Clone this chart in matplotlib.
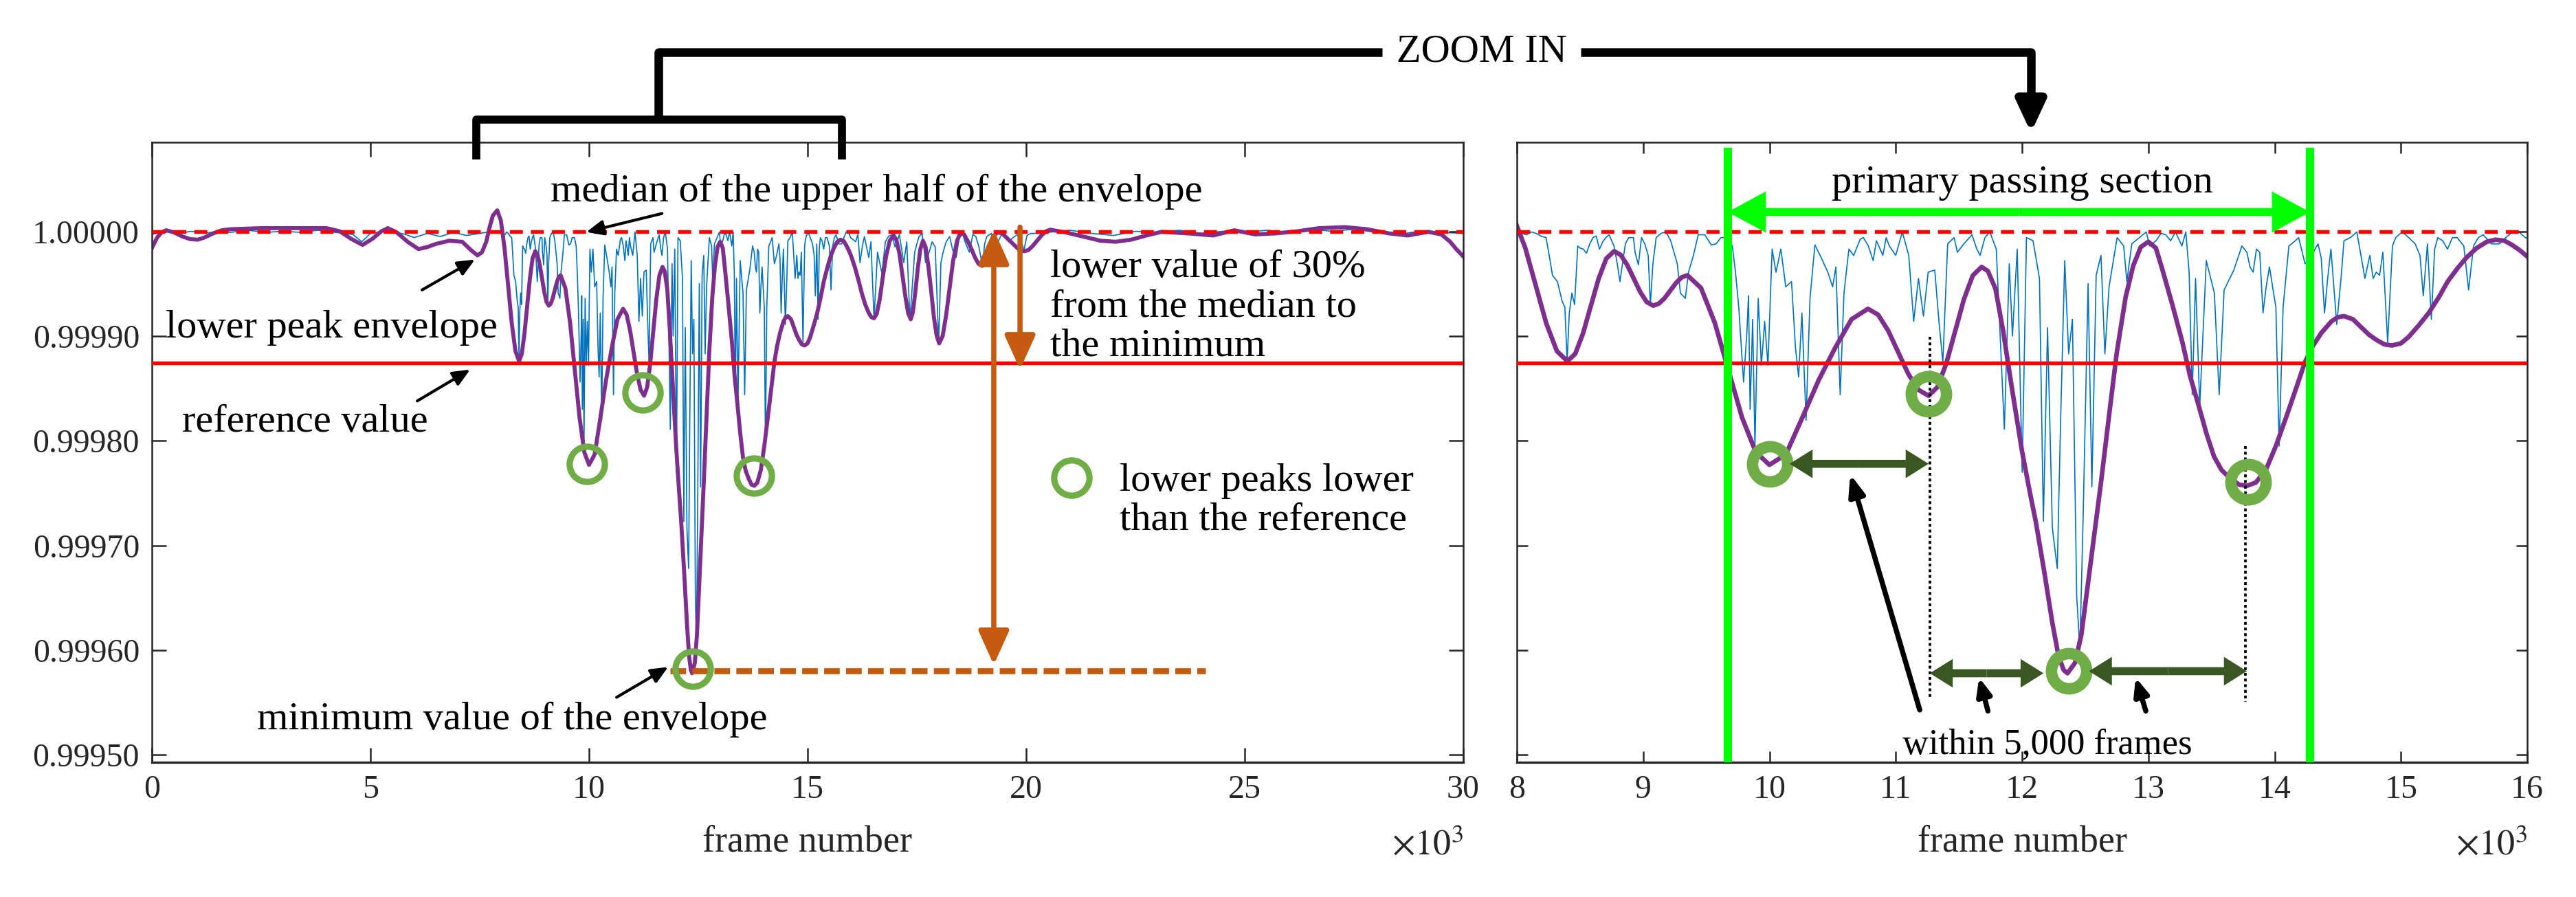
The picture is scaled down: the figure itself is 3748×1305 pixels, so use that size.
import numpy as np
import matplotlib
matplotlib.use("Agg")
import matplotlib.pyplot as plt
from matplotlib.lines import Line2D

plt.rcParams['font.family'] = ['Liberation Serif', 'DejaVu Serif']
plt.rcParams['mathtext.fontset'] = 'stix'

# frame numbers in thousands (axis shows x10^3)
# depths are in units of 1e-5 below 1.0 (value = 1 - depth * 1e-5)
signal_k = [0.0, 0.3, 0.6, 0.9, 1.2, 1.5, 1.8, 2.2, 2.6, 3.0, 3.4, 3.8, 4.2, 4.6, 4.8, 5.0, 5.4, 5.8, 6.0,
            6.3, 6.6, 6.9, 7.2, 7.5, 7.8,
            8.000, 8.077, 8.154, 8.231, 8.282, 8.321, 8.359, 8.380, 8.398, 8.415, 8.436, 8.457, 8.482,
            8.526, 8.551, 8.603, 8.654, 8.705, 8.769, 8.816, 8.859, 8.923, 8.962, 9.013, 9.057, 9.103,
            9.180, 9.244, 9.295, 9.334, 9.359, 9.436, 9.539, 9.616, 9.706, 9.757, 9.795, 9.821, 9.847,
            9.867, 9.885, 9.911, 9.936, 9.962, 9.988, 10.021, 10.052, 10.090, 10.129, 10.175, 10.206,
            10.231, 10.257, 10.290, 10.321, 10.360, 10.411, 10.462, 10.500, 10.526, 10.560, 10.590,
            10.629, 10.719, 10.783, 10.847, 10.898, 10.949, 11.052, 11.103, 11.142, 11.180, 11.219,
            11.257, 11.309, 11.342, 11.373, 11.411, 11.488, 11.539, 11.604, 11.668, 11.745, 11.796,
            11.860, 11.899, 11.962, 12.001,
            12.035, 12.087, 12.138, 12.169, 12.202, 12.240, 12.279, 12.305, 12.338, 12.369, 12.399,
            12.433, 12.458, 12.484, 12.523, 12.553, 12.587, 12.625, 12.656, 12.689, 12.753, 12.805,
            12.830, 12.869, 12.984, 13.061, 13.138, 13.215, 13.266, 13.297, 13.323, 13.348, 13.374,
            13.407, 13.459, 13.523, 13.561, 13.600, 13.677, 13.741, 13.805, 13.856, 13.908, 13.959,
            14.010, 14.036, 14.067, 14.113, 14.190, 14.241, 14.344, 14.395, 14.446, 14.492, 14.528,
            14.600, 14.651, 14.715, 14.754, 14.805, 14.857, 14.895, 14.933, 15.010, 15.113, 15.177,
            15.210, 15.241, 15.292, 15.369, 15.446, 15.536, 15.575, 15.652, 15.780, 15.883, 15.985,
            16.1, 16.2, 16.3, 16.4, 16.52, 16.6, 16.7, 16.85, 17.0, 17.1, 17.2, 17.34, 17.45, 17.55,
            17.7, 17.85, 18.0, 18.1, 18.25, 18.4, 18.55, 18.7, 18.85, 19.0, 19.1, 19.3, 19.45, 19.6,
            19.8, 19.95, 20.1,
            20.5, 21.0, 21.5, 22.0, 22.5, 23.0, 23.5, 24.0, 24.5, 25.0, 25.5, 26.0, 26.5, 27.0, 27.5,
            28.0, 28.5, 29.0, 29.5, 30.0]
signal_dev = [0.3, 0.0, 0.2, 0.0, 0.2, 0.0, 0.1, -0.1, 0.1, 0.0, 0.1, -0.1, 0.1, 0.3, 1.0, 0.2, -0.1, 0.3, 0.6,
              0.2, 0.5, 0.1, 0.4, 0.2, 0.0,
              0.06, 0.33, 0.2, 0.6, 4.2, 4.8, 6.7, 7.25, 12.4, 7.8, 5.9, 7.0, 1.4,
              1.7, 2.1, 0.6, 1.7, 0.6, 1.4, 4.8, 1.2, 0.6, 3.2, 1.2, 7.0, 0.6,
              0.06, 2.0, 5.9, 6.4, 3.9, 0.33, 1.3, 0.6, 1.4, 7.25, 14.4, 9.7, 17.0,
              8.4, 20.5, 6.4, 12.8, 8.6, 12.8, 1.7, 3.9, 1.7, 5.3, 4.8, 11.1,
              13.9, 7.8, 18.05, 6.4, 1.3, 2.55, 3.9, 5.3, 3.4, 15.6, 5.9,
              1.7, 0.75, 1.4, 0.9, 2.3, 1.4, 0.06, 2.3, 8.6, 4.5, 8.1,
              3.9, 3.7, 8.6, 12.5, 1.2, 2.0, 1.2, 0.33, 2.3, 0.06, 1.7,
              18.9, 3.1, 1.7, 23.0,
              0.6, 0.9, 4.5, 27.7, 9.2, 28.3, 32.2, 18.3, 2.8, 11.7, 8.4,
              34.9, 39.9, 27.2, 5.0, 24.4, 4.2, 2.3, 11.7, 5.3, 0.6, 1.4,
              4.8, 1.2, 0.06, 0.9, 0.33, 0.06, 1.4, 0.06, 3.9, 15.6, 4.5,
              16.7, 2.8, 5.9, 15.6, 5.6, 3.7, 1.4, 3.4, 1.7, 7.8, 3.4,
              7.25, 20.5, 7.25, 1.4, 0.6, 3.1, 1.2, 7.8, 1.7, 8.9, 4.2,
              0.6, 0.06, 4.5, 2.3, 3.9, 2.0, 10.6, 1.4, 0.06, 1.2, 6.15,
              1.2, 8.4, 0.6, 1.7, 0.6, 5.6, 1.4, 0.33, 1.2, 0.06, 0.6,
              1.0, 3.0, 0.5, 2.5, 8.4, 2.0, 4.0, 0.5, 1.5, 0.3, 3.0, 8.5, 2.0, 0.5,
              3.0, 1.0, 10.7, 2.0, 0.5, 2.5, 0.3, 2.0, 0.5, 3.3, 0.5, 1.5, 0.2, 1.0,
              0.3, 1.8, 0.2,
              0.1, -0.1, 0.2, 0.4, 0.0, 0.1, -0.1, 0.2, 0.0, 0.1, -0.1, 0.1, -0.2, 0.0, -0.2,
              0.1, 0.3, 0.0, 0.1, 0.2]

# further samples of the same signal (fine ripple between the big dips)
ripple_k = [8.04, 8.115, 8.19, 8.256, 8.50, 8.577, 8.628, 8.68, 8.73, 8.795, 8.885, 8.936, 8.987, 9.04,
            9.077, 9.141, 9.218, 9.27, 9.398, 9.488, 9.577, 9.667, 9.731, 9.775, 9.834,
            10.667, 10.744, 10.821, 10.924, 11.0, 11.462, 11.642, 11.706, 11.924,
            13.01, 13.1, 13.177, 13.78, 13.83, 13.882, 13.933, 14.164, 14.292, 14.369, 14.42, 14.549,
            14.626, 14.78, 14.831, 14.959, 15.062, 15.151, 15.267, 15.331, 15.408, 15.498, 15.613,
            15.716, 15.831, 15.934,
            16.15, 16.25, 16.45, 16.65, 16.78, 16.93, 17.05, 17.27, 17.5, 17.62, 17.78, 17.92, 18.05,
            18.17, 18.32, 18.47, 18.62, 18.78, 18.92, 19.05, 19.2, 19.38, 19.52, 19.7, 19.88, 20.02, 20.3]
ripple_dev = [0.2, 0.06, 0.45, 2.3, 1.6, 1.2, 0.45, 1.0, 0.33, 3.1, 0.6, 2.0, 0.6, 2.3,
              3.1, 0.2, 0.9, 3.1, 2.3, 0.33, 1.2, 0.6, 3.9, 10.6, 6.15,
              2.3, 0.6, 2.8, 0.6, 2.3, 0.6, 1.7, 0.6, 10.0,
              1.4, 0.2, 0.9, 2.0, 3.9, 2.0, 5.3, 0.9, 2.3, 2.55, 4.5, 0.9,
              0.33, 4.5, 4.2, 0.6, 0.6, 2.3, 1.7, 0.9, 0.6, 1.4, 0.6,
              1.2, 0.6, 0.06,
              0.3, 1.5, 1.0, 3.0, 1.0, 0.3, 1.0, 1.0, 1.2, 0.2, 2.0, 1.5, 3.0,
              1.0, 1.8, 0.6, 1.2, 0.3, 1.5, 1.2, 0.2, 0.8, 0.4, 0.6, 0.9, 0.4, 0.2]

envelope_k = [0.0, 0.12, 0.22, 0.33, 0.5, 0.7, 0.88, 1.05, 1.2, 1.4, 1.6, 1.8, 2.5, 3.3, 4.0, 4.3, 4.55,
              4.82, 5.05, 5.25, 5.4, 5.6, 5.85, 6.1, 6.3, 6.5, 6.8, 7.1, 7.3, 7.45, 7.55, 7.65, 7.72, 7.8,
              7.9, 7.983, 8.067, 8.15, 8.233, 8.317, 8.40, 8.462, 8.523, 8.585, 8.647, 8.708, 8.77,
              8.822, 8.873, 8.925, 8.977, 9.028, 9.08, 9.125, 9.17, 9.215, 9.26, 9.305, 9.35,
              9.458, 9.567, 9.675, 9.783, 9.892, 10.0, 10.13, 10.26, 10.39, 10.52, 10.65, 10.78,
              10.86, 10.94, 11.02, 11.10, 11.18, 11.26, 11.33, 11.40, 11.47, 11.54, 11.61, 11.68,
              11.73, 11.79, 11.85, 11.92, 12.0, 12.06, 12.11, 12.18, 12.24, 12.29, 12.33, 12.36,
              12.42, 12.47, 12.55, 12.625, 12.69, 12.75, 12.82, 12.88, 12.94, 13.0,
              13.06, 13.11, 13.19, 13.27, 13.33, 13.40, 13.46, 13.52, 13.58, 13.65, 13.72, 13.78,
              13.85, 13.93, 14.01, 14.09, 14.17, 14.24, 14.30, 14.37, 14.45, 14.50, 14.55,
              14.62, 14.68, 14.75, 14.81, 14.87, 14.93, 15.0, 15.06, 15.14, 15.22, 15.30, 15.37,
              15.45, 15.52, 15.60, 15.68, 15.75, 15.82, 15.88, 15.94, 16.0, 16.08, 16.16, 16.24,
              16.32, 16.40, 16.46, 16.52, 16.58, 16.65, 16.72, 16.80, 16.88, 16.97, 17.03, 17.10,
              17.17, 17.24, 17.30, 17.36, 17.41, 17.47, 17.52, 17.58, 17.64, 17.70, 17.76, 17.83,
              17.89, 17.95, 18.01, 18.09, 18.17, 18.25, 18.33, 18.42, 18.5, 18.58, 18.66, 18.75,
              18.83, 18.91, 18.99, 19.05, 19.11, 19.17, 19.23, 19.29, 19.35, 19.45, 19.55, 19.65,
              19.75, 19.85, 19.95, 20.05, 20.15, 20.25, 20.35, 20.45, 20.55, 20.9, 21.3, 21.7,
              22.05, 22.4, 22.75, 23.1, 23.7, 24.28, 24.76, 25.24, 25.7, 26.2, 26.7, 27.29, 27.8,
              28.3, 28.73, 29.2, 29.5, 29.7, 29.84, 30.0]
envelope_dev = [1.6, 0.6, 0.1, -0.1, 0.1, 0.5, 0.75, 0.8, 0.6, 0.2, -0.1, -0.2, -0.3, -0.3, -0.3, 0.0, 0.7,
                1.3, 0.7, 0.0, -0.3, 0.1, 1.0, 1.7, 1.5, 1.2, 0.9, 1.0, 1.8, 2.3, 2.0, 1.0, -0.3, -1.5,
                -2.0, -1.04, 1.6, 5.2, 8.8, 11.44, 12.4, 11.7, 9.78, 7.15, 4.53, 2.6, 1.9,
                2.25, 3.2, 4.5, 5.8, 6.75, 7.1, 6.9, 6.38, 5.65, 4.93, 4.39, 4.2,
                5.41, 8.73, 13.25, 17.78, 21.09, 22.3, 21.3, 17.8, 14.2, 11.13, 8.4, 7.4,
                7.96, 9.48, 11.55, 13.63, 15.14, 15.7, 14.88, 12.63, 9.55, 6.48, 4.22, 3.4,
                3.8, 5.5, 9.5, 15.0, 21.0, 24.8, 27.8, 32.8, 37.4, 40.6, 41.9, 42.2,
                41.2, 38.5, 31.0, 24.0, 17.5, 11.6, 6.3, 3.3, 1.5, 1.0,
                1.6, 3.6, 7.0, 10.6, 13.8, 16.7, 19.3, 21.5, 22.8, 23.6, 24.2, 24.3,
                24.0, 22.8, 20.5, 17.8, 15.0, 12.5, 11.0, 9.7, 8.6, 8.2, 8.1,
                8.4, 9.1, 9.9, 10.4, 10.8, 10.9, 10.7, 10.1, 9.0, 7.8, 6.3, 4.8,
                3.5, 2.5, 1.6, 1.0, 0.8, 0.9, 1.3, 1.8, 2.4, 3.4, 4.6, 5.9,
                7.0, 7.8, 8.2, 8.3, 7.9, 6.5, 4.4, 2.3, 0.9, 0.4, 0.8, 2.1,
                4.2, 6.3, 7.8, 8.4, 7.7, 5.6, 3.6, 1.7, 0.9, 1.5, 3.2, 5.8,
                8.2, 9.9, 10.7, 10.0, 8.0, 5.4, 2.8, 0.9, 0.1, 0.3, 0.9, 1.7,
                2.5, 3.1, 3.3, 3.1, 2.5, 1.7, 0.9, 0.3, 0.1, 0.2, 0.6, 1.0,
                1.4, 1.8, 1.9, 1.8, 1.4, 0.9, 0.4, 0.0, -0.15, 0.1, 0.5, 0.9,
                1.0, 0.8, 0.4, 0.05, 0.2, 0.4, -0.1, 0.3, 0.2, 0.0, -0.3, -0.4, -0.2,
                0.2, 0.4, 0.05, 0.3, 1.0, 1.7, 2.4]

median_value = 1.0
reference_value = 0.999874
minimum_value = 0.99958

# lower peaks below the reference (circled)
peaks_left_k = [9.96, 11.22, 12.38, 13.78]
peaks_left_dev = [22.2, 15.4, 41.8, 23.3]
peaks_right_k = [10.0, 11.26, 12.37, 13.79]
peaks_right_dev = [22.2, 15.5, 42.0, 23.9]

passing_start_k = 9.67
passing_end_k = 14.28

left_xticks = [0, 5, 10, 15, 20, 25, 30]
right_xticks = [8, 9, 10, 11, 12, 13, 14, 15, 16]
yticks = [0.99950, 0.99960, 0.99970, 0.99980, 0.99990, 1.00000]
ylim = (0.999493, 1.000085)

BLUE = '#0072BD'
PURPLE = '#7E2F8E'
RED = '#FF0000'
ORANGE = '#C55A11'
CIRCLE = '#70AD47'
LIME = '#00FF00'
DKGREEN = '#385723'
AXC = '#262626'


def val(d):
    return 1.0 - np.asarray(d, dtype=float) * 1e-5


def arrow(ax, tail, tip, color, lw, hl, hw, style='-|>', z=8):
    ax.annotate('', xy=(tip[0], val(tip[1])), xytext=(tail[0], val(tail[1])),
                arrowprops=dict(arrowstyle=f'{style},head_length={hl},head_width={hw}',
                                color=color, lw=lw, shrinkA=0, shrinkB=0, mutation_scale=1),
                annotation_clip=False, zorder=z)


def thick_double(ax, x0, x1, d, color, hl, hw, tw):
    mid = (x0 + x1) / 2
    for end in (x0, x1):
        ax.annotate('', xy=(end, val(d)), xytext=(mid, val(d)),
                    arrowprops=dict(arrowstyle=f'simple,head_length={hl},head_width={hw},tail_width={tw}',
                                    color=color, lw=0, shrinkA=0, shrinkB=0, mutation_scale=1),
                    zorder=8)


# one signal from both sample lists, in frame order
sig_k = np.array(signal_k + ripple_k)
sig_d = np.array(signal_dev + ripple_dev)
order = np.argsort(sig_k, kind='stable')
sig_k, sig_d = sig_k[order], sig_d[order]

W, H = 3748, 1305
fig = plt.figure(figsize=(W / 300, H / 300), dpi=300)
ax1 = fig.add_axes([221 / W, 1 - 1109 / H, 1908 / W, 902 / H])
ax2 = fig.add_axes([2207 / W, 1 - 1109 / H, 1470 / W, 902 / H])

for ax, xt, tl, circ_k, circ_d, mew, env_lw in (
        (ax1, left_xticks, 5.0, peaks_left_k, peaks_left_dev, 2.2, 1.4),
        (ax2, right_xticks, 3.8, peaks_right_k, peaks_right_dev, 4.0, 1.6)):
    ax.plot(sig_k, val(sig_d), color=BLUE, lw=0.4, zorder=1)
    ax.plot(envelope_k, val(envelope_dev), color=PURPLE, lw=env_lw, zorder=2,
            solid_joinstyle='round')
    ax.axhline(median_value, color=RED, lw=1.3, dashes=(3.5, 2.15), zorder=3)
    ax.axhline(reference_value, color=RED, lw=1.3, zorder=3)
    ax.plot(circ_k, val(circ_d), 'o', ms=12.3, mfc='none', mec=CIRCLE, mew=mew, zorder=6)
    ax.set_xlim(xt[0], xt[-1])
    ax.set_ylim(*ylim)
    ax.set_xticks(xt)
    ax.set_xticklabels([str(v) for v in xt])
    ax.set_yticks(yticks)
    ax.tick_params(direction='in', top=True, right=True, length=tl, width=0.6,
                   colors=AXC, labelsize=11.5, pad=4.3)
    for s in ax.spines.values():
        s.set_color(AXC)
        s.set_linewidth(0.6)
    ax.spines['bottom'].set_linewidth(0.8)
    ax.set_xlabel('frame number', fontsize=13, color=AXC)
    ax.xaxis.set_label_coords(0.5, -0.101)
    ax.text(1.0, -0.135, r'$\times10^{3}$', transform=ax.transAxes, ha='right', va='center',
            fontsize=12.5, color=AXC)

ax1.set_yticklabels([f'{v:.5f}' for v in yticks])
ax2.set_yticklabels([])

# ---- left panel annotations
fs = 14
ax1.text(16.57, val(-3.75), 'median of the upper half of the envelope', ha='center', va='center', fontsize=fs)
arrow(ax1, (11.67, -1.7), (9.94, 0.07), 'black', 1.0, 5, 2.2)
ax1.text(4.11, val(9.2), 'lower peak envelope', ha='center', va='center', fontsize=fs)
arrow(ax1, (6.18, 5.6), (7.39, 2.7), 'black', 1.0, 5, 2.2)
ax1.text(3.51, val(18.2), 'reference value', ha='center', va='center', fontsize=fs)
arrow(ax1, (6.07, 16.2), (7.28, 13.2), 'black', 1.0, 5, 2.2)
ax1.text(8.24, val(46.6), 'minimum value of the envelope', ha='center', va='center', fontsize=fs)
arrow(ax1, (10.63, 44.5), (11.81, 41.6), 'black', 1.0, 5, 2.2)

ax1.text(20.55, val(7.2), 'lower value of 30%\nfrom the median to\nthe minimum', ha='left', va='center',
         fontsize=fs, linespacing=1.12)
ax1.plot([21.03], [val(23.5)], 'o', ms=12.3, mfc='none', mec=CIRCLE, mew=2.2)
ax1.text(22.14, val(25.7), 'lower peaks lower\nthan the reference', ha='left', va='center',
         fontsize=fs, linespacing=1.12)

ax1.plot([11.85, 24.1], [minimum_value, minimum_value], color=ORANGE, lw=2.1, dashes=(2.6, 1.05), zorder=5)
arrow(ax1, (19.26, -0.15), (19.26, 41.4), ORANGE, 1.8, 10, 4.5, style='<|-|>')
arrow(ax1, (19.86, -0.4), (19.86, 13.2), ORANGE, 1.8, 10, 4.5)

# ---- right panel annotations
for xg in (passing_start_k, passing_end_k):
    ax2.axvline(xg, ymin=0, ymax=0.985, color=LIME, lw=2.9, zorder=4)
thick_double(ax2, passing_start_k, passing_end_k, -1.84, LIME, 13.3, 14.4, 2.8)
ax2.text(12.0, val(-4.6), 'primary passing section', ha='center', va='center', fontsize=fs)

ax2.plot([11.27, 11.27], val([10.1, 44.7]), color='black', lw=0.9, dashes=(1.1, 1.1), zorder=5)
ax2.plot([13.77, 13.77], val([20.5, 44.9]), color='black', lw=0.9, dashes=(1.1, 1.1), zorder=5)
thick_double(ax2, 10.16, 11.26, 22.2, DKGREEN, 8, 10, 2.8)
thick_double(ax2, 11.27, 12.17, 42.2, DKGREEN, 8, 10, 2.8)
thick_double(ax2, 12.53, 13.78, 42.0, DKGREEN, 8, 10, 2.8)
arrow(ax2, (11.19, 45.7), (10.64, 23.2), 'black', 1.8, 6, 2.3)
arrow(ax2, (11.73, 45.8), (11.66, 42.6), 'black', 1.8, 5, 2.1)
arrow(ax2, (12.98, 45.8), (12.90, 42.6), 'black', 1.8, 5, 2.1)
ax2.text(12.2, val(49.0), 'within 5,000 frames', ha='center', va='center', fontsize=12.6)


# ---- zoom-in bracket across the figure (figure pixel positions)
def fp(x, y):
    return x / W, 1 - y / H


def fig_line(pts, lw=3.0):
    xs, ys = zip(*[fp(x, y) for x, y in pts])
    fig.add_artist(Line2D(xs, ys, color='black', lw=lw, solid_joinstyle='round',
                          solid_capstyle='butt', transform=fig.transFigure))


fig_line([(693, 232), (693, 174), (1225, 174), (1225, 232)], lw=2.8)
fig_line([(958, 174), (958, 76), (2011, 76)])
fig_line([(2300, 76), (2955, 76), (2955, 165)])
ax1.annotate('', xy=fp(2955, 193), xytext=fp(2955, 150), xycoords='figure fraction',
             textcoords='figure fraction',
             arrowprops=dict(arrowstyle='-|>,head_length=9,head_width=4.2', color='black', lw=3.0,
                             shrinkA=0, shrinkB=0, mutation_scale=1), annotation_clip=False)
fig.text(*fp(2156, 75), 'ZOOM IN', ha='center', va='center', fontsize=14)

fig.savefig('out.png', dpi=300)
